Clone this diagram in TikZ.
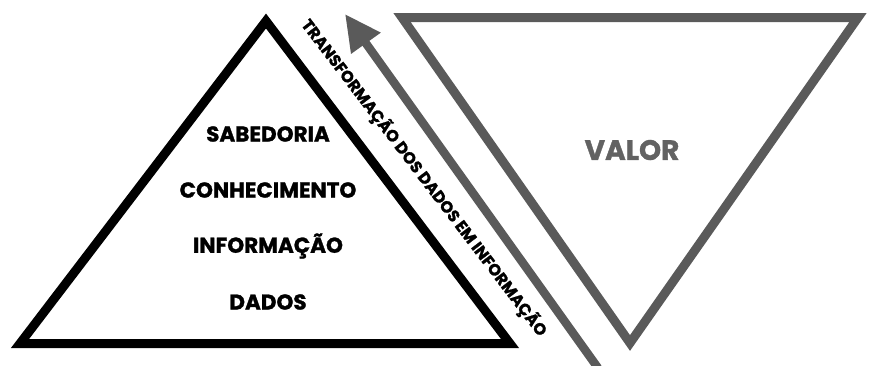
\documentclass[tikz,border=0pt]{standalone}
\usepackage{fontspec}
\setmainfont{Poppins}[BoldFeatures={FakeBold=1.3}]
\usetikzlibrary{arrows.meta}

\definecolor{valgray}{HTML}{5A5A5A}

\tikzset{
	level/.style={font=\bfseries\fontsize{21.5}{24}\selectfont, text=black},
	pyramid/.style={draw=black, line width=9pt, miter limit=20, line join=miter},
	valtri/.style={draw=valgray, line width=9pt, miter limit=20, line join=miter},
}

\begin{document}
\begin{tikzpicture}[x=1pt, y=-1pt]
			\useasboundingbox (0, 0) rectangle (871, 365);
			
			% piramide
			\coordinate (apex) at (266, 21);
			\coordinate (baseL) at (20, 343.5);
			\coordinate (baseR) at (510, 343.5);
			\draw[pyramid] (apex) -- (baseR) -- (baseL) -- cycle;
			
			\node[level] (sabedoria) at (268, 134) {SABEDORIA};
			\node[level] (conhecimento) at (268, 190) {CONHECIMENTO};
			\node[level] (informacao) at (268, 246) {INFORMAÇÃO};
			\node[level] (dados) at (268, 302) {DADOS};
			
			% triangulo invertido
			\coordinate (topL) at (402, 17.5);
			\coordinate (topR) at (858, 17.5);
			\coordinate (bottom) at (630, 343);
			\draw[valtri] (topL) -- (topR) -- (bottom) -- cycle;
			
			\node[font=\bfseries\fontsize{28}{32}\selectfont, text=valgray!95] (valor) at (632, 150) {VALOR};
			
			% seta
			\coordinate (arrowS) at (598, 368);
			\coordinate (arrowT) at (345, 14);
			\draw[-{Triangle[length=36pt, width=34pt]}, draw=valgray, fill=valgray, line width=8.5pt] (arrowS) -- (arrowT);
			
			\coordinate (txtA) at (302, 18);
			\coordinate (txtB) at (546, 338);
			\path (txtA) -- (txtB) node[midway, sloped, font=\bfseries\fontsize{16.2}{18}\selectfont, inner sep=0pt] (transf) {TRANSFORMAÇÃO DOS DADOS EM INFORMAÇÃO};
			
		\end{tikzpicture}
\end{document}
